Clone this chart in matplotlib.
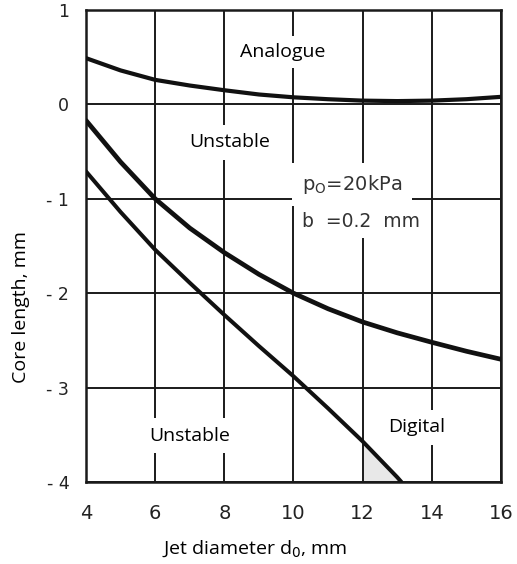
import matplotlib
matplotlib.use("Agg")
import matplotlib.pyplot as plt

# Data
x_top = [4, 5, 6, 7, 8, 9, 10, 11, 12, 13, 14, 15, 16]
y_top = [0.49, 0.36, 0.26, 0.20, 0.15, 0.105, 0.075, 0.055, 0.04, 0.035, 0.04, 0.055, 0.08]

x_mid = [4, 5, 6, 7, 8, 9, 10, 11, 12, 13, 14, 15, 16]
y_mid = [-0.17, -0.61, -1.0, -1.31, -1.57, -1.80, -2.0, -2.165, -2.305, -2.42, -2.52, -2.615, -2.70]

x_low = [4, 5, 6, 7, 8, 9, 10, 11, 12, 13, 13.12]
y_low = [-0.71, -1.14, -1.54, -1.89, -2.23, -2.56, -2.88, -3.22, -3.57, -3.95, -4.0]

xticks = [4, 6, 8, 10, 12, 14, 16]
xtick_labels = ["4", "6", "8", "10", "12", "14", "16"]
yticks = [1, 0, -1, -2, -3, -4]
ytick_labels = ["1", "0", "- 1", "- 2", "- 3", "- 4"]

fig = plt.figure(figsize=(5.17, 5.64), dpi=100)
ax = fig.add_axes([86/517, 1-482/564, (501-86)/517, (482-10)/564])
ax.set_xlim(4, 16)
ax.set_ylim(-4, 1)

ax.set_xticks(xticks)
ax.set_xticklabels(xtick_labels, fontsize=14, family="DejaVu Sans", color="#222222")
ax.set_yticks(yticks)
ax.set_yticklabels(ytick_labels, fontsize=12.5, family="DejaVu Sans", color="#222222")
ax.tick_params(axis="x", length=0, pad=16)
ax.tick_params(axis="y", length=0, pad=12)
ax.grid(True, color="#1a1a1a", linewidth=1.4, zorder=1)
for s in ax.spines.values():
    s.set_linewidth(1.8)
    s.set_color("#1a1a1a")

# small grey shaded triangle
xs = [x for x in x_low if x >= 12]
ys = [y for x, y in zip(x_low, y_low) if x >= 12]
ax.fill_between(xs, ys, -4, color="#e8e8e8", zorder=1.5, linewidth=0)

ax.plot(x_top, y_top, color="#111111", linewidth=3.0, zorder=3, solid_capstyle="round", solid_joinstyle="round")
ax.plot(x_mid, y_mid, color="#111111", linewidth=3.4, zorder=3, solid_capstyle="round", solid_joinstyle="round")
ax.plot(x_low, y_low, color="#111111", linewidth=2.9, zorder=3, solid_capstyle="round", solid_joinstyle="round")

tf = "Open Sans"
def bb(p):
    return dict(facecolor="white", edgecolor="none", pad=p)

ax.text(9.68, 0.55, "Analogue", fontsize=14, family=tf, ha="center", va="center", bbox=bb(5), zorder=4)
ax.text(8.15, -0.40, "Unstable", fontsize=14, family=tf, ha="center", va="center", bbox=bb(6), zorder=4)
ax.text(7.0, -3.51, "Unstable", fontsize=14, family=tf, ha="center", va="center", bbox=bb(6), zorder=4)
ax.text(13.56, -3.42, "Digital", fontsize=14, family=tf, ha="center", va="center", bbox=bb(6), zorder=4)
ax.text(10.25, -0.85, r"p$_{\mathrm{O}}$=20kPa", fontsize=14, family="DejaVu Sans", color="#333333",
        ha="left", va="center", bbox=bb(7), zorder=4)
ax.text(10.25, -1.24, "b  =0.2  mm", fontsize=13.5, family="DejaVu Sans", color="#333333",
        ha="left", va="center", bbox=bb(5), zorder=4)

fig.text(255/517, 1-549/564, r"Jet diameter d$_0$, mm", fontsize=14, family=tf, ha="center", va="center")
fig.text(21/517, 1-307/564, "Core length, mm", fontsize=14, family=tf, ha="center", va="center", rotation=90)

fig.savefig("out.png", dpi=100)
